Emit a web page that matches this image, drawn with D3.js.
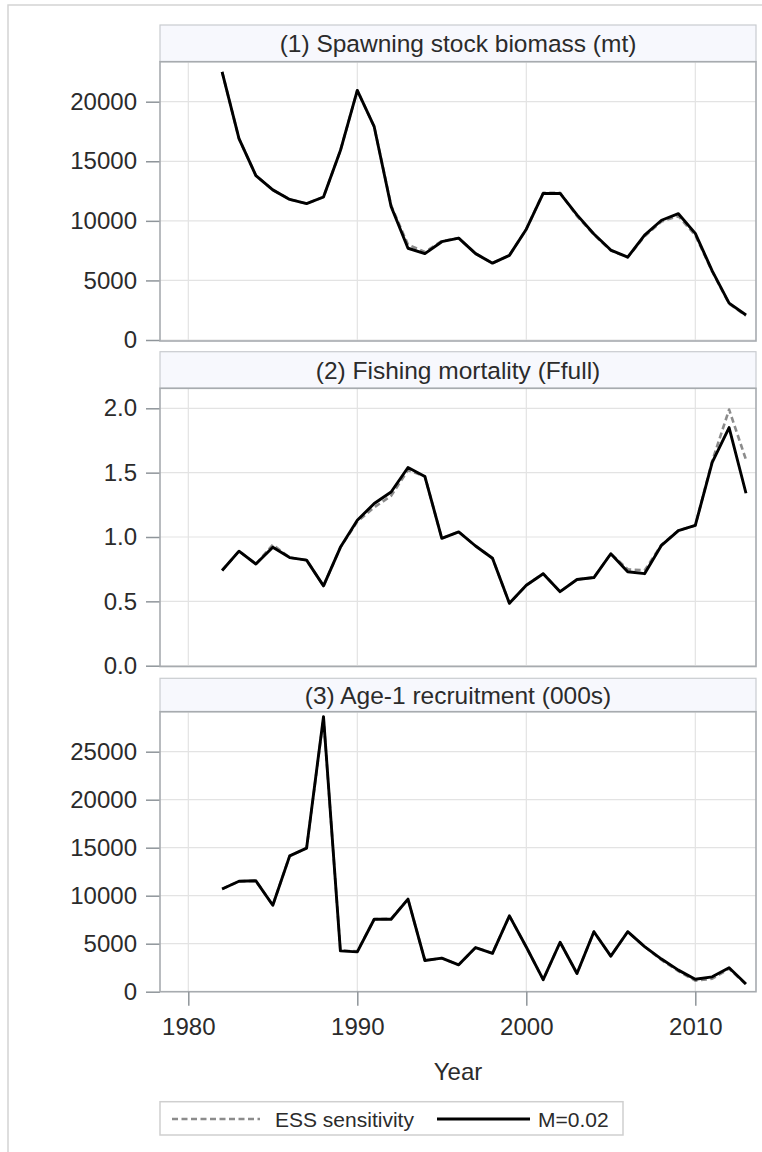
<!DOCTYPE html>
<html>
<head>
<meta charset="utf-8">
<script src="https://cdn.jsdelivr.net/npm/d3@7"></script>
<style>
  html, body { margin: 0; padding: 0; background: #fff; }
  svg { display: block; }
  text { font-family: "Liberation Sans", Arial, sans-serif; fill: #2b2b2b; }
</style>
</head>
<body>
<svg id="chart" width="762" height="1152"></svg>
<script>
// Stock assessment outputs: base run (M=0.02) vs. ESS sensitivity run
const years = [1982,1983,1984,1985,1986,1987,1988,1989,1990,1991,1992,1993,1994,1995,1996,1997,
               1998,1999,2000,2001,2002,2003,2004,2005,2006,2007,2008,2009,2010,2011,2012,2013];

const ssbBase = [22500,16900,13800,12600,11800,11450,12000,15900,20950,17900,11200,7700,7250,8250,8550,7250,
                 6450,7100,9300,12300,12300,10500,8900,7550,6950,8800,10050,10600,8950,5800,3100,2100];
const ssbEss  = [22500,16900,13800,12600,11800,11450,12000,15900,20950,17900,11300,8000,7400,8300,8550,7250,
                 6450,7100,9300,12350,12350,10400,8850,7500,6950,8700,9950,10400,8800,5750,3050,2050];

const fBase = [0.74,0.89,0.79,0.92,0.84,0.82,0.62,0.92,1.13,1.26,1.35,1.54,1.47,0.99,1.04,0.93,
               0.835,0.485,0.625,0.715,0.575,0.67,0.685,0.87,0.73,0.715,0.935,1.05,1.09,1.58,1.85,1.34];
const fEss  = [0.74,0.89,0.79,0.94,0.84,0.82,0.62,0.92,1.12,1.23,1.32,1.52,1.47,0.99,1.04,0.93,
               0.835,0.485,0.625,0.715,0.575,0.67,0.685,0.87,0.75,0.74,0.94,1.05,1.09,1.59,1.99,1.60];

const recBase = [10700,11500,11550,9000,14150,14950,28650,4250,4150,7550,7550,9650,3250,3500,2800,4600,
                 4000,7900,4650,1250,5150,1900,6250,3700,6250,4700,3400,2250,1300,1550,2500,800];
const recEss  = [10700,11500,11550,9000,14150,14950,28500,4300,4200,7550,7600,9650,3250,3500,2800,4600,
                 4000,7900,4650,1250,5150,1900,6250,3700,6250,4700,3300,2150,1150,1350,2400,750];

const panelTitles = ["(1) Spawning stock biomass (mt)", "(2) Fishing mortality (Ffull)", "(3) Age-1 recruitment (000s)"];
const yTicks = [
  [0,5000,10000,15000,20000],
  [0,0.5,1.0,1.5,2.0],
  [0,5000,10000,15000,20000,25000]
];
const yFormats = [d3.format("d"), d3.format(".1f"), d3.format("d")];
const xTicks = [1980,1990,2000,2010];
const seriesNames = ["ESS sensitivity", "M=0.02"];

const svg = d3.select("#chart");

// outer frame of the graph area
svg.append("rect").attr("x", 8).attr("y", 5).attr("width", 800).attr("height", 1200)
  .attr("fill", "none").attr("stroke", "#d4d4d4").attr("stroke-width", 1.5);

const plotLeft = 160, plotRight = 756;
const x = d3.scaleLinear().domain([1980, 2010]).range([188.3, 695.3]);

// vertical geometry of each panel: header top, plot top, plot bottom, pixel of zero, pixel of top tick
const panels = [
  { hTop: 25,    pTop: 61.7,  pBot: 341,   zeroY: 340,   topTickY: 101.7, base: ssbBase, ess: ssbEss },
  { hTop: 351.7, pTop: 388.3, pBot: 666.5, zeroY: 665.7, topTickY: 408.3, base: fBase,   ess: fEss },
  { hTop: 678.3, pTop: 711.7, pBot: 991.7, zeroY: 991.7, topTickY: 751.7, base: recBase, ess: recEss }
];

const fsTitle = 24.5, fsTick = 24, fsLegend = 21;

panels.forEach((p, i) => {
  const ticks = yTicks[i];
  const y = d3.scaleLinear().domain([0, ticks[ticks.length - 1]]).range([p.zeroY, p.topTickY]);
  const g = svg.append("g");

  // header strip
  g.append("rect").attr("x", plotLeft).attr("y", p.hTop).attr("width", plotRight - plotLeft)
    .attr("height", p.pTop - p.hTop).attr("fill", "#f7f8fd").attr("stroke", "#c9ccd0").attr("stroke-width", 1.2);
  g.append("text").attr("x", (plotLeft + plotRight) / 2).attr("y", (p.hTop + p.pTop) / 2 + 8.5)
    .attr("text-anchor", "middle").attr("font-size", fsTitle).text(panelTitles[i]);

  // clip for the data
  const clipId = "clip" + i;
  svg.append("clipPath").attr("id", clipId).append("rect")
    .attr("x", plotLeft).attr("y", p.pTop).attr("width", plotRight - plotLeft).attr("height", p.pBot - p.pTop);

  // grid
  g.append("g").selectAll("line").data(xTicks).join("line")
    .attr("x1", d => x(d)).attr("x2", d => x(d)).attr("y1", p.pTop).attr("y2", p.pBot)
    .attr("stroke", "#e3e3e3").attr("stroke-width", 1.2);
  g.append("g").selectAll("line").data(ticks).join("line")
    .attr("x1", plotLeft).attr("x2", plotRight).attr("y1", d => y(d)).attr("y2", d => y(d))
    .attr("stroke", "#e3e3e3").attr("stroke-width", 1.2);

  // y axis
  const ya = g.append("g").attr("transform", `translate(${plotLeft},0)`)
    .call(d3.axisLeft(y).tickValues(ticks).tickFormat(yFormats[i]).tickSize(14).tickPadding(9));
  ya.select(".domain").remove();
  ya.selectAll(".tick line").attr("stroke", "#8f959a").attr("stroke-width", 1.5);
  ya.selectAll(".tick text").attr("font-size", fsTick).attr("font-family", "Liberation Sans, Arial, sans-serif")
    .attr("fill", "#2b2b2b");

  // series lines
  const line = d3.line().x((d, k) => x(years[k])).y(d => y(d));
  const lines = g.append("g").attr("clip-path", `url(#${clipId})`);
  lines.append("path").datum(p.ess).attr("d", line).attr("fill", "none")
    .attr("stroke", "#8c8c8c").attr("stroke-width", 2.6).attr("stroke-dasharray", "6,3.5")
    .attr("stroke-linejoin", "round");
  lines.append("path").datum(p.base).attr("d", line).attr("fill", "none")
    .attr("stroke", "#000").attr("stroke-width", 2.9).attr("stroke-linejoin", "round");

  // plot frame
  g.append("rect").attr("x", plotLeft).attr("y", p.pTop).attr("width", plotRight - plotLeft)
    .attr("height", p.pBot - p.pTop).attr("fill", "none").attr("stroke", "#a7abaf").attr("stroke-width", 1.6);

  // x axis on the bottom panel only
  if (i === panels.length - 1) {
    const xa = g.append("g").attr("transform", `translate(0,${p.pBot})`)
      .call(d3.axisBottom(x).tickValues(xTicks).tickFormat(d3.format("d")).tickSize(14).tickPadding(12));
    xa.select(".domain").remove();
    xa.selectAll(".tick line").attr("stroke", "#8f959a").attr("stroke-width", 1.5);
    xa.selectAll(".tick text").attr("font-size", fsTick).attr("font-family", "Liberation Sans, Arial, sans-serif")
      .attr("fill", "#2b2b2b");
    svg.append("text").attr("x", (plotLeft + plotRight) / 2).attr("y", 1080)
      .attr("text-anchor", "middle").attr("font-size", fsTick).text("Year");
  }
});

// legend
const lg = svg.append("g");
lg.append("rect").attr("x", 160).attr("y", 1101.7).attr("width", 463).attr("height", 33.3)
  .attr("fill", "#fff").attr("stroke", "#cfcfcf").attr("stroke-width", 1.5);
lg.append("line").attr("x1", 172).attr("x2", 260).attr("y1", 1119).attr("y2", 1119)
  .attr("stroke", "#8c8c8c").attr("stroke-width", 2.6).attr("stroke-dasharray", "6,3.5");
lg.append("text").attr("x", 275).attr("y", 1126.5).attr("font-size", fsLegend).text(seriesNames[0]);
lg.append("line").attr("x1", 437).attr("x2", 530).attr("y1", 1119).attr("y2", 1119)
  .attr("stroke", "#000").attr("stroke-width", 2.9);
lg.append("text").attr("x", 538).attr("y", 1126.5).attr("font-size", fsLegend).text(seriesNames[1]);
</script>
</body>
</html>
